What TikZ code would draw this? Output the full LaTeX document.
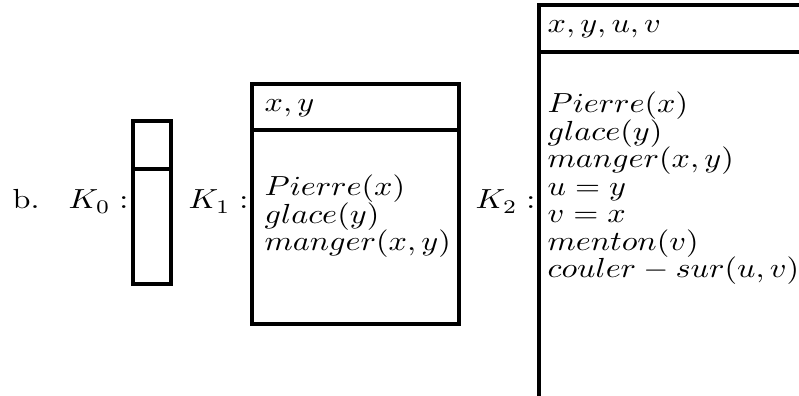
\documentclass[tikz,border=0pt]{standalone}
\usepackage{tikz}
\usetikzlibrary{positioning}

\begin{document}
\begin{tikzpicture}[
xscale=1.61, yscale=1.38,
transform shape,
x=0.3106pt, y=-0.3623pt,
drsbox/.style={draw=black, line width=1.6pt},
cond/.style={anchor=base west, inner sep=0pt},
lbl/.style={anchor=base east, inner sep=0pt}
]
\clip (0,0) rectangle (799,396);
% labels
\node[cond] (item) at (12,209) {b.};
\node[lbl] (k0) at (129,209) {$K_0:$};
\node[lbl] (k1) at (249,209) {$K_1:$};
\node[lbl] (k2) at (536,209) {$K_2:$};
% K0
\draw[drsbox] (133,121) rectangle (171,284);
\draw[drsbox] (133,169) -- (171,169);
% K1
\draw[drsbox] (252,84) rectangle (459,324);
\draw[drsbox] (252,130) -- (459,130);
\node[cond] (u1) at (264,112) {$x,y$};
\foreach \t [count=\i] in {{Pierre(x)},{glace(y)},{manger(x,y)}}
  \node[cond] (c1\i) at (264,{196+27.5*(\i-1)}) {$\t$};
% K2
\draw[drsbox] (539,5) rectangle (840,420);
\draw[drsbox] (539,52) -- (840,52);
\node[cond] (u2) at (547,33) {$x,y,u,v$};
\foreach \t [count=\i] in {{Pierre(x)},{glace(y)},{manger(x,y)},{u=y},{v=x},{menton(v)},{couler-sur(u,v)}}
  \node[cond] (c2\i) at (547,{113+27.5*(\i-1)}) {$\t$};
\end{tikzpicture}
\end{document}
